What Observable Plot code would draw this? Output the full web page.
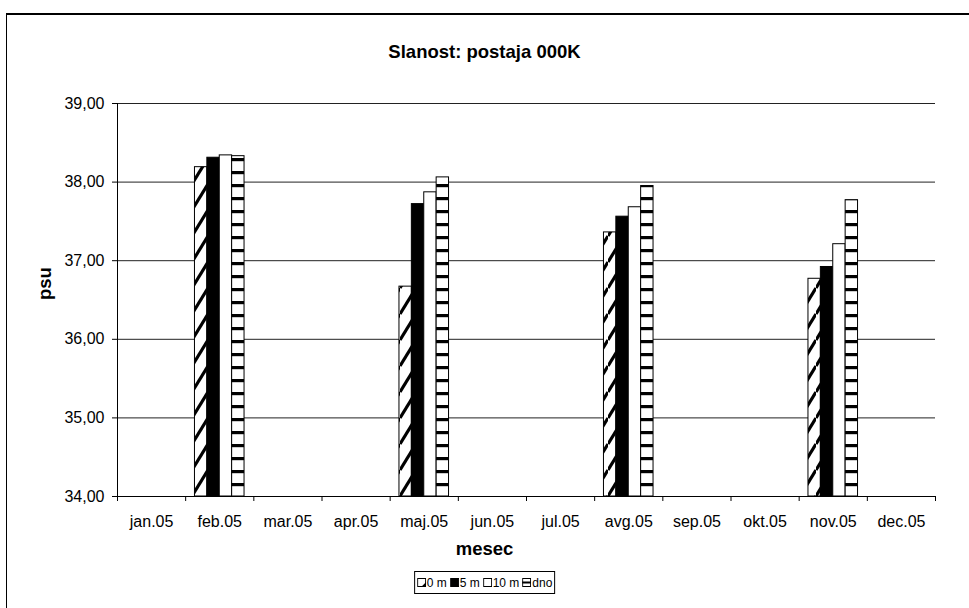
<!DOCTYPE html>
<html>
<head>
<meta charset="utf-8">
<script src="https://cdn.jsdelivr.net/npm/d3@7"></script>
<script src="https://cdn.jsdelivr.net/npm/@observablehq/plot@0.6"></script>
<style>
  body { margin: 0; background: #fff; font-family: "Liberation Sans", Arial, sans-serif; color: #000; }
  #page { position: relative; width: 969px; height: 608px; overflow: hidden; background: #fff; }
  #border { position: absolute; left: 6px; top: 13px; width: 2000px; height: 2000px;
            border-top: 2px solid #000; border-left: 1px solid #000; background: transparent;
            pointer-events: none; z-index: 5; }
  #title { position: absolute; left: 0; width: 969px; top: 42px; text-align: center;
           font-weight: bold; font-size: 18.5px; line-height: 20px; }
  #xlabel { position: absolute; left: 0; width: 969px; top: 539px; text-align: center;
            font-weight: bold; font-size: 18.5px; line-height: 20px; }
  #chart { position: absolute; left: 0; top: 80px; }
  #legend { position: absolute; top: 571px; left: 50%; transform: translateX(-50%);
            border: 1px solid #000; height: 23px; box-sizing: border-box; padding: 0 2px;
            display: flex; align-items: center; font-size: 12px; white-space: nowrap; background: #fff; }
  #legend .item { display: flex; align-items: center; margin-right: 3px; }
  #legend .item:last-child { margin-right: 0; }
  #legend svg { margin-right: 1px; }
</style>
</head>
<body>
<div id="page">
  <div id="title">Slanost: postaja 000K</div>
  <div id="chart"></div>
  <div id="xlabel">mesec</div>
  <div id="legend"></div>
  <div id="border"></div>
</div>
<script>
// Salinity by month and depth, station 000K
const months = ["jan.05", "feb.05", "mar.05", "apr.05", "maj.05", "jun.05",
                "jul.05", "avg.05", "sep.05", "okt.05", "nov.05", "dec.05"];
const sampledMonths = ["feb.05", "maj.05", "avg.05", "nov.05"];
const series = ["0 m", "5 m", "10 m", "dno"];
const salinity0m  = [38.19, 36.67, 37.36, 36.77];
const salinity5m  = [38.31, 37.72, 37.56, 36.92];
const salinity10m = [38.34, 37.87, 37.68, 37.21];
const salinityDno = [38.33, 38.06, 37.95, 37.77];
const yTicks = [34, 35, 36, 37, 38, 39];
const BASE = 34;

const seriesValues = [salinity0m, salinity5m, salinity10m, salinityDno];
const fills = ["url(#hatch0m)", "#000", "#fff", "url(#stripesDno)"];
const GAP = 1.5; // gap between month groups, in bar widths
const N = series.length;

const fmt = d => d.toFixed(2).replace(".", ",");

// pattern definitions used by the bar fills
function patternDefs() {
  const defs = d3.create("svg:defs");
  const W = 16, H = 26;
  const hatch = defs.append("pattern").attr("id", "hatch0m")
    .attr("patternUnits", "userSpaceOnUse").attr("width", W).attr("height", H);
  hatch.append("rect").attr("width", W).attr("height", H).attr("fill", "#fff");
  for (const k of [-1, 0, 1]) {
    hatch.append("line")
      .attr("x1", 0).attr("y1", H + k * H).attr("x2", W).attr("y2", k * H)
      .attr("stroke", "#000").attr("stroke-width", 3.2);
  }
  const stripes = defs.append("pattern").attr("id", "stripesDno")
    .attr("patternUnits", "userSpaceOnUse").attr("width", 10).attr("height", 13);
  stripes.append("rect").attr("width", 10).attr("height", 13).attr("fill", "#fff");
  stripes.append("rect").attr("width", 10).attr("height", 3.2).attr("fill", "#000");
  return defs.node();
}

function barMark(values, si) {
  const rows = sampledMonths.map((m, i) => ({month: m, value: values[i]}));
  return Plot.rectY(rows, {
    x1: d => months.indexOf(d.month) + (GAP / 2 + si) / (N + GAP),
    x2: d => months.indexOf(d.month) + (GAP / 2 + si + 1) / (N + GAP),
    y1: BASE,
    y2: "value",
    fill: fills[si],
    stroke: "#000",
    strokeWidth: 1
  });
}

const chart = Plot.plot({
  width: 969,
  height: 480,
  marginLeft: 117,
  marginRight: 34,
  marginTop: 23,
  marginBottom: 64,
  style: {fontFamily: "'Liberation Sans', Arial, sans-serif", background: "transparent", color: "#000"},
  x: {domain: [0, months.length]},
  y: {domain: [yTicks[0], yTicks[yTicks.length - 1]]},
  marks: [
    patternDefs,
    Plot.ruleY(yTicks.slice(1), {stroke: "#222", strokeWidth: 1}),
    ...seriesValues.map((vals, si) => barMark(vals, si)),
    Plot.ruleY([BASE], {stroke: "#000"}),
    Plot.ruleX([0], {stroke: "#000"}),
    Plot.axisY({ticks: yTicks, tickFormat: fmt, tickSize: 5, tickPadding: 8,
                fontSize: 16, label: null}),
    // ticks on the month boundaries
    Plot.axisX({ticks: d3.range(months.length + 1), tickFormat: () => "",
                tickSize: 5, label: null}),
    // month names centred in each band
    Plot.axisX({ticks: months.map((_, i) => i + 0.5), tickFormat: d => months[Math.floor(d)],
                tickSize: 0, tickPadding: 19, fontSize: 16, label: null}),
    Plot.text(["psu"], {text: d => d, frameAnchor: "left", dx: -72, rotate: -90,
                        fontWeight: "bold", fontSize: 18.5})
  ]
});
document.getElementById("chart").appendChild(chart);

// legend swatches
const legend = d3.select("#legend");
series.forEach((name, si) => {
  const item = legend.append("div").attr("class", "item");
  const sw = item.append("svg").attr("width", 9).attr("height", 9);
  sw.append("rect").attr("x", 0.5).attr("y", 0.5).attr("width", 8).attr("height", 8)
    .attr("fill", si === 1 ? "#000" : "#fff").attr("stroke", "#000");
  if (si === 0) sw.append("path").attr("d", "M9,4 L9,9 L4,9 Z").attr("fill", "#000");
  if (si === 3) sw.append("rect").attr("x", 0).attr("y", 3.5).attr("width", 9).attr("height", 2).attr("fill", "#000");
  item.append("span").text(name);
});
</script>
</body>
</html>
